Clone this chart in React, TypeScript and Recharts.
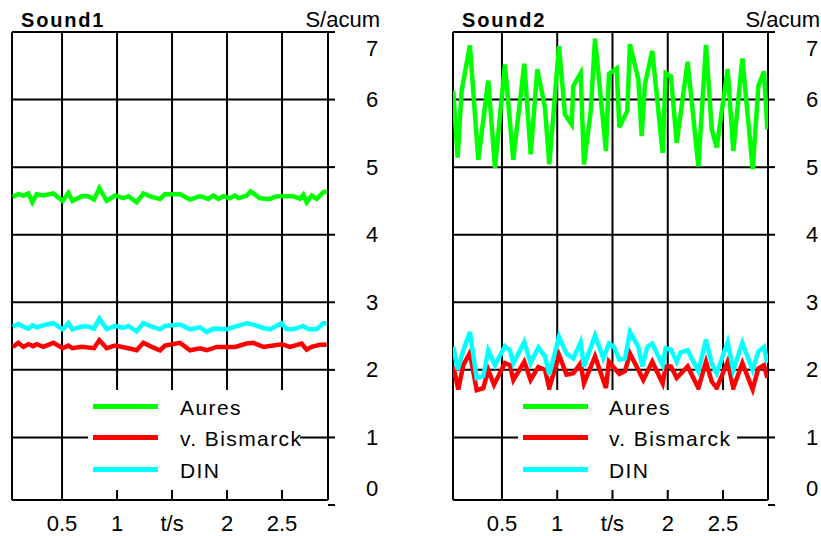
import { LineChart, Line, XAxis, YAxis, ReferenceLine } from 'recharts';

const FONT = '"Liberation Sans", Arial, Helvetica, sans-serif';

// Sound1 (time in s, value in acum)
const s1AuresT = [0.052, 0.103, 0.148, 0.194, 0.23, 0.27, 0.33, 0.421, 0.506, 0.558, 0.594, 0.679, 0.739, 0.791, 0.839, 0.906, 0.982, 1.058, 1.103, 1.179, 1.239, 1.315, 1.391, 1.436, 1.497, 1.573, 1.664, 1.755, 1.83, 1.876, 1.921, 1.967, 2.027, 2.073, 2.103, 2.179, 2.215, 2.3, 2.391, 2.452, 2.603, 2.664, 2.694, 2.724, 2.77, 2.815, 2.876, 2.906];
const s1AuresV = [4.56, 4.6, 4.58, 4.61, 4.48, 4.6, 4.58, 4.61, 4.5, 4.62, 4.5, 4.57, 4.57, 4.52, 4.69, 4.5, 4.58, 4.54, 4.57, 4.48, 4.61, 4.56, 4.53, 4.6, 4.6, 4.6, 4.52, 4.57, 4.53, 4.58, 4.53, 4.57, 4.54, 4.58, 4.54, 4.58, 4.64, 4.54, 4.53, 4.57, 4.57, 4.53, 4.59, 4.48, 4.58, 4.53, 4.63, 4.64];

const s1BisT = [0.052, 0.103, 0.148, 0.194, 0.239, 0.27, 0.33, 0.421, 0.506, 0.558, 0.594, 0.679, 0.791, 0.839, 0.906, 0.982, 1.103, 1.179, 1.239, 1.315, 1.391, 1.436, 1.573, 1.664, 1.755, 1.815, 1.906, 2.073, 2.179, 2.239, 2.33, 2.497, 2.573, 2.679, 2.724, 2.77, 2.845, 2.906];
const s1BisV = [2.34, 2.4, 2.34, 2.38, 2.35, 2.38, 2.34, 2.4, 2.32, 2.36, 2.32, 2.34, 2.32, 2.44, 2.32, 2.36, 2.32, 2.29, 2.4, 2.34, 2.29, 2.36, 2.4, 2.29, 2.32, 2.29, 2.34, 2.34, 2.39, 2.4, 2.34, 2.38, 2.34, 2.39, 2.3, 2.34, 2.37, 2.37];

const s1DinT = [0.052, 0.103, 0.148, 0.194, 0.23, 0.27, 0.33, 0.421, 0.506, 0.558, 0.594, 0.679, 0.739, 0.791, 0.839, 0.906, 0.982, 1.058, 1.103, 1.179, 1.239, 1.315, 1.391, 1.436, 1.573, 1.664, 1.755, 1.815, 1.876, 1.997, 2.073, 2.179, 2.239, 2.33, 2.391, 2.497, 2.542, 2.603, 2.694, 2.739, 2.815, 2.876, 2.906];
const s1DinV = [2.64, 2.68, 2.64, 2.61, 2.66, 2.63, 2.66, 2.69, 2.6, 2.69, 2.6, 2.64, 2.64, 2.61, 2.76, 2.6, 2.65, 2.62, 2.65, 2.57, 2.69, 2.64, 2.6, 2.65, 2.67, 2.6, 2.63, 2.56, 2.61, 2.6, 2.64, 2.69, 2.67, 2.62, 2.6, 2.69, 2.6, 2.6, 2.65, 2.6, 2.6, 2.69, 2.69];

// Sound2
const s2AuresT = [0.059, 0.099, 0.135, 0.21, 0.286, 0.376, 0.437, 0.527, 0.602, 0.702, 0.76, 0.82, 0.889, 0.928, 1.016, 1.07, 1.131, 1.145, 1.212, 1.242, 1.303, 1.342, 1.441, 1.468, 1.538, 1.562, 1.634, 1.658, 1.734, 1.764, 1.794, 1.86, 1.954, 1.981, 2.029, 2.081, 2.18, 2.277, 2.346, 2.398, 2.443, 2.542, 2.593, 2.675, 2.769, 2.82, 2.871, 2.901];
const s2AuresV = [6.13, 5.14, 6.13, 6.8, 5.11, 6.28, 4.99, 6.52, 5.11, 6.53, 5.19, 6.45, 5.88, 5.04, 6.79, 5.78, 5.63, 6.2, 6.39, 5.04, 5.83, 6.9, 5.24, 6.38, 6.46, 5.59, 5.83, 6.82, 6.3, 5.46, 6.23, 6.72, 5.21, 6.39, 6.34, 5.36, 6.56, 5.01, 6.81, 5.56, 5.29, 6.45, 5.24, 6.61, 4.97, 6.2, 6.42, 5.56];

const s2BisT = [0.06, 0.105, 0.15, 0.21, 0.271, 0.331, 0.376, 0.428, 0.527, 0.572, 0.603, 0.702, 0.759, 0.829, 0.889, 0.928, 1.016, 1.085, 1.146, 1.212, 1.242, 1.342, 1.441, 1.468, 1.562, 1.613, 1.658, 1.734, 1.779, 1.86, 1.954, 1.981, 2.029, 2.081, 2.18, 2.277, 2.346, 2.397, 2.443, 2.542, 2.593, 2.675, 2.768, 2.82, 2.871, 2.901];
const s2BisV = [2.05, 1.71, 2.07, 2.25, 1.7, 1.73, 2.0, 1.78, 2.1, 2.07, 1.85, 2.12, 1.85, 2.04, 2.0, 1.73, 2.22, 1.93, 1.95, 2.1, 1.8, 2.2, 1.73, 2.12, 1.94, 1.98, 2.24, 2.0, 1.85, 2.12, 1.8, 2.05, 2.05, 1.88, 2.05, 1.73, 2.12, 1.83, 1.73, 2.12, 1.73, 2.1, 1.71, 2.02, 2.07, 1.88];

const s2DinT = [0.06, 0.099, 0.15, 0.21, 0.271, 0.331, 0.376, 0.437, 0.527, 0.572, 0.603, 0.702, 0.759, 0.829, 0.889, 0.928, 1.016, 1.085, 1.146, 1.212, 1.242, 1.342, 1.417, 1.468, 1.514, 1.562, 1.613, 1.658, 1.734, 1.77, 1.815, 1.86, 1.954, 1.981, 2.029, 2.081, 2.117, 2.18, 2.277, 2.346, 2.397, 2.443, 2.542, 2.593, 2.675, 2.768, 2.82, 2.871, 2.901];
const s2DinV = [2.34, 2.0, 2.29, 2.56, 1.88, 1.91, 2.29, 2.07, 2.35, 2.29, 2.1, 2.41, 2.1, 2.33, 2.2, 1.93, 2.49, 2.24, 2.17, 2.41, 2.05, 2.51, 2.17, 2.39, 2.34, 2.15, 2.17, 2.56, 2.34, 2.05, 2.34, 2.39, 2.07, 2.32, 2.3, 2.12, 2.26, 2.29, 1.98, 2.45, 2.1, 1.95, 2.41, 2.0, 2.4, 2.0, 2.27, 2.34, 2.1];

const yTicks = [0, 1, 2, 3, 4, 5, 6, 7];
const gridY = [1, 2, 3, 4, 5, 6, 7];
const xTicks = [0.5, 1, 1.5, 2, 2.5];
const xTickLabels = ['0.5', '1', 't/s', '2', '2.5'];
const seriesNames = ['Aures', 'v. Bismarck', 'DIN'];
const seriesColors = ['#00ff00', '#ff0000', '#00ffff'];

const zip = (t: number[], v: number[]) => t.map((x, i) => ({ t: x, v: v[i] }));

const BOTTOM = 0.074;

const YTick = (props: any) => {
  const { x, y, payload } = props;
  const val = payload.value;
  const dy = val === 7 ? 16 : val === 0 ? -17 : 0;
  return (
    <g>
      <line x1={x} x2={x + 7} y1={y} y2={y} stroke="#000" strokeWidth={2} />
      <text x={x + 44} y={y + dy} textAnchor="middle" dominantBaseline="central" fontSize={22} fontFamily={FONT} fill="#000">
        {val}
      </text>
    </g>
  );
};

const XTick = (props: any) => {
  const { x, y, payload } = props;
  const idx = xTicks.indexOf(payload.value);
  return (
    <text x={x} y={y + 18} textAnchor="middle" dominantBaseline="central" fontSize={22} fontFamily={FONT} fill="#000">
      {xTickLabels[idx]}
    </text>
  );
};

interface PanelProps {
  left: number;
  width: number;
  yAxisWidth: number;
  xDomain: [number, number];
  title: string;
  series: { t: number; v: number }[][];
  legendBox: { left: number; width: number };
  legendLineX: number;
  legendTextX: number;
}

function Panel({ left, width, yAxisWidth, xDomain, title, series, legendBox, legendLineX, legendTextX }: PanelProps) {
  const [x0, x1] = xDomain;
  const plotRight = width - yAxisWidth;
  return (
    <div style={{ position: 'absolute', left, top: 0, width, height: 536 }}>
      <LineChart width={width} height={536} margin={{ top: 32, right: 0, bottom: 0, left: 12 }}>
        <XAxis
          type="number"
          dataKey="t"
          domain={xDomain}
          allowDataOverflow
          ticks={xTicks}
          axisLine={false}
          tickLine={false}
          tickSize={0}
          tickMargin={0}
          height={31}
          tick={<XTick />}
        />
        <YAxis
          orientation="right"
          type="number"
          domain={[0, 7]}
          ticks={yTicks}
          axisLine={false}
          tickLine={false}
          tickSize={0}
          tickMargin={0}
          width={yAxisWidth}
          tick={<YTick />}
        />
        {gridY.map((g) => (
          <ReferenceLine key={`h${g}`} y={g} stroke="#000" strokeWidth={2} ifOverflow="visible" />
        ))}
        {xTicks.map((g) => (
          <ReferenceLine
            key={`v${g}`}
            segment={[{ x: g, y: BOTTOM }, { x: g, y: 7 }]}
            stroke="#000"
            strokeWidth={2}
            ifOverflow="visible"
          />
        ))}
        <ReferenceLine segment={[{ x: x0, y: BOTTOM }, { x: x0, y: 7 }]} stroke="#000" strokeWidth={2} ifOverflow="visible" />
        <ReferenceLine segment={[{ x: x1, y: BOTTOM }, { x: x1, y: 7 }]} stroke="#000" strokeWidth={2} ifOverflow="visible" />
        <ReferenceLine segment={[{ x: x0, y: BOTTOM }, { x: x1, y: BOTTOM }]} stroke="#000" strokeWidth={2} ifOverflow="visible" />
        {series.map((d, i) => (
          <Line
            key={seriesNames[i]}
            data={d}
            dataKey="v"
            type="linear"
            stroke={seriesColors[i]}
            strokeWidth={4.5}
            dot={false}
            activeDot={false}
            isAnimationActive={false}
          />
        ))}
      </LineChart>
      <div
        style={{
          position: 'absolute',
          left: 21,
          top: 10,
          fontFamily: FONT,
          fontWeight: 'bold',
          fontSize: 20,
          lineHeight: '20px',
          letterSpacing: 1.8,
        }}
      >
        {title}
      </div>
      <div
        style={{
          position: 'absolute',
          left: plotRight - 100 + 12 + 40,
          width: 100,
          textAlign: 'right',
          top: 9,
          fontFamily: FONT,
          fontSize: 22,
          lineHeight: '22px',
        }}
      >
        S/acum
      </div>
      <div
        style={{
          position: 'absolute',
          left: legendBox.left,
          top: 390,
          width: legendBox.width,
          height: 100,
          background: '#fff',
        }}
      >
        {seriesNames.map((name, i) => {
          const cy = [16, 47, 79][i];
          return (
            <div key={name}>
              <div
                style={{
                  position: 'absolute',
                  left: legendLineX,
                  top: cy - 2,
                  width: 65,
                  height: 5,
                  background: seriesColors[i],
                }}
              />
              <div
                style={{
                  position: 'absolute',
                  left: legendTextX,
                  top: cy - 9,
                  fontFamily: FONT,
                  fontSize: 21,
                  lineHeight: '21px',
                  letterSpacing: 1.4,
                  whiteSpace: 'nowrap',
                }}
              >
                {name}
              </div>
            </div>
          );
        })}
      </div>
    </div>
  );
}

export default function App() {
  const sound1 = [zip(s1AuresT, s1AuresV), zip(s1BisT, s1BisV), zip(s1DinT, s1DinV)];
  const sound2 = [zip(s2AuresT, s2AuresV), zip(s2BisT, s2BisV), zip(s2DinT, s2DinV)];
  return (
    <div style={{ position: 'absolute', left: 0, top: 0, width: 821, height: 536, background: '#fff', overflow: 'hidden' }}>
      <Panel
        left={0}
        width={398}
        yAxisWidth={70}
        xDomain={[0.045, 2.918]}
        title="Sound1"
        series={sound1}
        legendBox={{ left: 88, width: 212 }}
        legendLineX={5}
        legendTextX={92}
      />
      <Panel
        left={441}
        width={380}
        yAxisWidth={53}
        xDomain={[0.057, 2.907]}
        title="Sound2"
        series={sound2}
        legendBox={{ left: 77, width: 219 }}
        legendLineX={5}
        legendTextX={91}
      />
    </div>
  );
}
